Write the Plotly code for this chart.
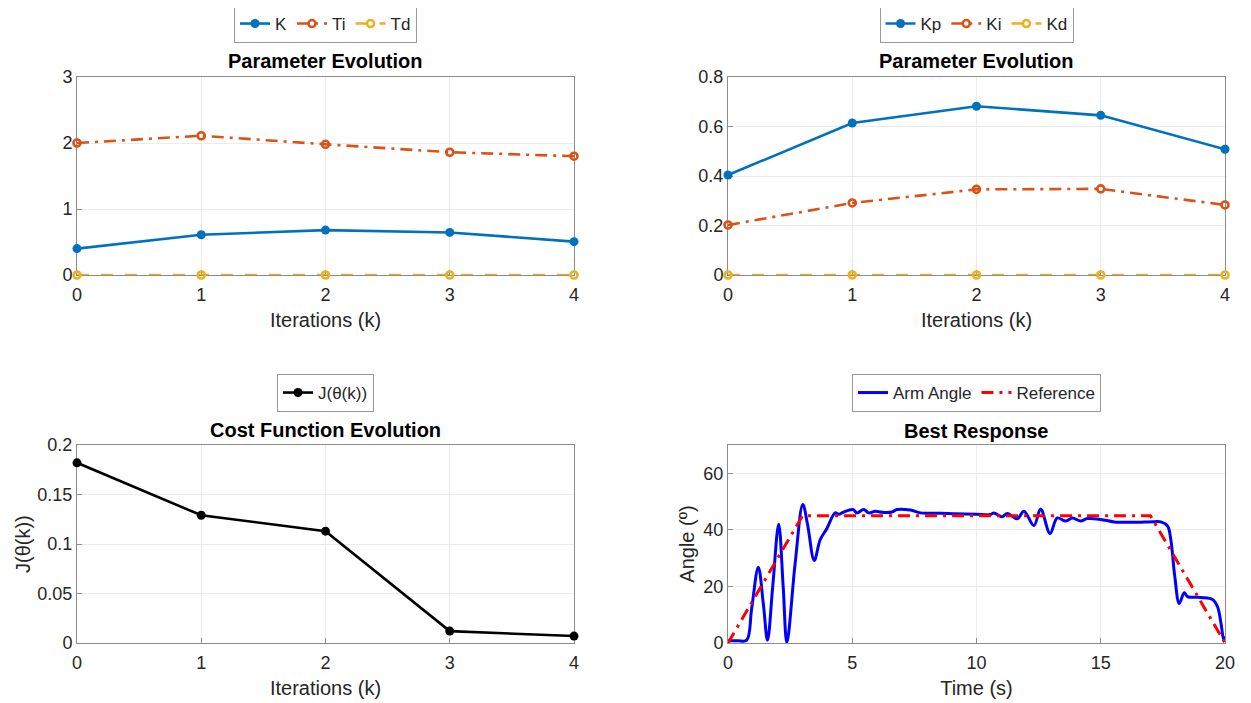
import plotly.graph_objects as go

# ---------------- data ----------------
iters = [0, 1, 2, 3, 4]
K_vals = [0.40, 0.61, 0.68, 0.645, 0.505]
Ti_vals = [2.00, 2.11, 1.98, 1.86, 1.80]
Td_vals = [0, 0, 0, 0, 0]
Kp_vals = [0.404, 0.614, 0.682, 0.645, 0.508]
Ki_vals = [0.202, 0.291, 0.346, 0.348, 0.283]
Kd_vals = [0, 0, 0, 0, 0]
J_vals = [0.182, 0.129, 0.113, 0.012, 0.007]

t_arm = [0, 0.4, 0.75, 0.95, 1.22, 1.42, 1.59, 1.8, 2.04, 2.22, 2.37, 2.7, 3.01, 3.2, 3.47,
         3.71, 3.98, 4.31, 4.45, 4.65, 5.03, 5.19, 5.46, 5.66, 5.93, 6.2, 6.6, 6.8, 7.34,
         7.74, 8.4, 9.09, 10.0, 10.56, 10.7, 11.03, 11.24, 11.64, 11.91, 12.31, 12.58,
         12.96, 13.25, 13.59, 13.86, 14.19, 14.46, 15.0, 15.54, 16.34, 17.15, 17.42,
         17.69, 17.82, 17.98, 18.16, 18.36, 18.49, 19.03, 19.5, 19.7, 19.84, 19.95, 20.0]
y_arm = [0.8, 0.8, 1.0, 12, 26.8, 14, 1.0, 20, 42.0, 20, 0.2, 28, 49.0, 42, 29.2,
         36.5, 40.5, 46.0, 45.5, 46.3, 47.2, 46.0, 47.2, 46.0, 46.6, 46.2, 46.3, 47.2, 47.0,
         46.0, 45.9, 45.7, 45.5, 45.4, 46.0, 44.6, 45.8, 43.9, 46.6, 41.5, 47.4,
         38.7, 44.2, 43.1, 44.2, 43.1, 44.0, 43.7, 42.8, 42.7, 42.9, 42.8,
         41.3, 36.5, 23.5, 14.0, 17.8, 16.4, 16.1, 15.4, 12.8, 6.9, 1.0, 2.4]

t_ref = [0, 3, 17, 20]
y_ref = [0, 45, 45, 0]

C1, C2, C3 = "#0072BD", "#D95319", "#EDB120"
FONT = "Liberation Sans, Arial, sans-serif"
TXT = "#262626"
AX = "#8c8c8c"
DASH = "12px,12px"
DASHDOT = "12px,6px,3px,6px"

fig = go.Figure()

def add(x, y, name, color, dash, xa, ya, legend, marker=None, shape="linear", width=2.6):
    kw = {}
    if marker is not None:
        kw["mode"] = "lines+markers"
        kw["marker"] = marker
    else:
        kw["mode"] = "lines"
    fig.add_trace(go.Scatter(x=x, y=y, name=name, xaxis=xa, yaxis=ya, legend=legend,
                             line=dict(color=color, width=width, dash=dash, shape=shape),
                             cliponaxis=False, **kw))

filled = lambda c: dict(symbol="circle", size=9, color=c)
opened = lambda c: dict(symbol="circle-open", size=7, color=c, line=dict(width=2.6, color=c))

add(iters, K_vals, "K", C1, "solid", "x", "y", "legend", filled(C1))
add(iters, Ti_vals, "Ti", C2, DASHDOT, "x", "y", "legend", opened(C2))
add(iters, Td_vals, "Td", C3, DASH, "x", "y", "legend", opened(C3))

add(iters, Kp_vals, "Kp", C1, "solid", "x2", "y2", "legend2", filled(C1))
add(iters, Ki_vals, "Ki", C2, DASHDOT, "x2", "y2", "legend2", opened(C2))
add(iters, Kd_vals, "Kd", C3, DASH, "x2", "y2", "legend2", opened(C3))

add(iters, J_vals, "J(θ(k))", "#000000", "solid", "x3", "y3", "legend3", filled("#000000"))

add(t_arm, y_arm, "Arm Angle", "#0000FF", "solid", "x4", "y4", "legend4", None, shape="spline", width=3)
add(t_ref, y_ref, "Reference", "#FF0000", DASHDOT, "x4", "y4", "legend4", None, width=3)

# page has an 8px body margin: size figure so screen pixels line up with the reference
OFF = 8
W, H = 1251 - OFF, 703 - OFF
xp = lambda px: (px - OFF) / W
yp = lambda py: 1 - (py - OFF) / H

xd1 = [xp(77), xp(574)]
xd2 = [xp(728), xp(1225)]
yd1 = [yp(275), yp(77)]
yd2 = [yp(643), yp(445)]

def xaxis(dom, anchor, rng, dtick, title):
    return dict(domain=dom, anchor=anchor, range=rng, dtick=dtick, tick0=0,
                showline=True, mirror=True, linecolor=AX, linewidth=1,
                ticks="inside", ticklen=5, tickcolor=AX, layer="below traces",
                showgrid=True, gridcolor="#ebebeb", zeroline=False, automargin=False,
                ticklabelstandoff=3,
                tickfont=dict(size=18, color=TXT, family=FONT),
                title=dict(text=title, font=dict(size=20, color=TXT, family=FONT), standoff=9))

def yaxis(dom, anchor, rng, dtick, title=None, standoff=12):
    d = dict(domain=dom, anchor=anchor, range=rng, dtick=dtick, tick0=0,
             showline=True, mirror=True, linecolor=AX, linewidth=1,
             ticks="inside", ticklen=5, tickcolor=AX, layer="below traces",
             showgrid=True, gridcolor="#ebebeb", zeroline=False, automargin=False,
             tickfont=dict(size=18, color=TXT, family=FONT))
    if title:
        d["title"] = dict(text=title, font=dict(size=20, color=TXT, family=FONT), standoff=standoff)
    return d

legend_common = dict(orientation="h", bordercolor="#999999", borderwidth=1, bgcolor="white",
                     font=dict(size=17, color=TXT, family=FONT), xanchor="center",
                     yanchor="top", itemwidth=30, tracegroupgap=0)

fig.update_layout(
    width=W, height=H, margin=dict(l=0, r=0, t=0, b=0, autoexpand=False),
    paper_bgcolor="white", plot_bgcolor="white", font=dict(family=FONT, color=TXT),
    xaxis=xaxis(xd1, "y", [0, 4], 1, "Iterations (k)"),
    yaxis=yaxis(yd1, "x", [0, 3], 1),
    xaxis2=xaxis(xd2, "y2", [0, 4], 1, "Iterations (k)"),
    yaxis2=yaxis(yd1, "x2", [0, 0.8], 0.2),
    xaxis3=xaxis(xd1, "y3", [0, 4], 1, "Iterations (k)"),
    yaxis3=yaxis(yd2, "x3", [0, 0.2], 0.05),
    xaxis4=xaxis(xd2, "y4", [0, 20], 5, "Time (s)"),
    yaxis4=yaxis(yd2, "x4", [0, 70], 20, "Angle (º)", standoff=3),
    legend=dict(legend_common, x=sum(xd1) / 2, y=yp(5)),
    legend2=dict(legend_common, x=sum(xd2) / 2, y=yp(5)),
    legend3=dict(legend_common, x=sum(xd1) / 2, y=yp(374)),
    legend4=dict(legend_common, x=sum(xd2) / 2, y=yp(374)),
    showlegend=True,
)

# y-axis title of the cost plot (an annotation, since axis titles are clamped to the margin)
fig.add_annotation(text="J(θ(k))", x=xp(23), y=sum(yd2) / 2, xref="paper", yref="paper",
                   showarrow=False, textangle=-90, xanchor="center", yanchor="middle",
                   font=dict(size=20, color=TXT, family=FONT))

titles = [("Parameter Evolution", sum(xd1) / 2, 61),
          ("Parameter Evolution", sum(xd2) / 2, 61),
          ("Cost Function Evolution", sum(xd1) / 2, 430),
          ("Best Response", sum(xd2) / 2, 431)]
for text, x, ypx in titles:
    fig.add_annotation(text=f"<b>{text}</b>", x=x, y=yp(ypx), xref="paper", yref="paper",
                       showarrow=False, xanchor="center", yanchor="middle",
                       font=dict(size=20, color="#000000", family=FONT))

fig.write_html("out.html")
